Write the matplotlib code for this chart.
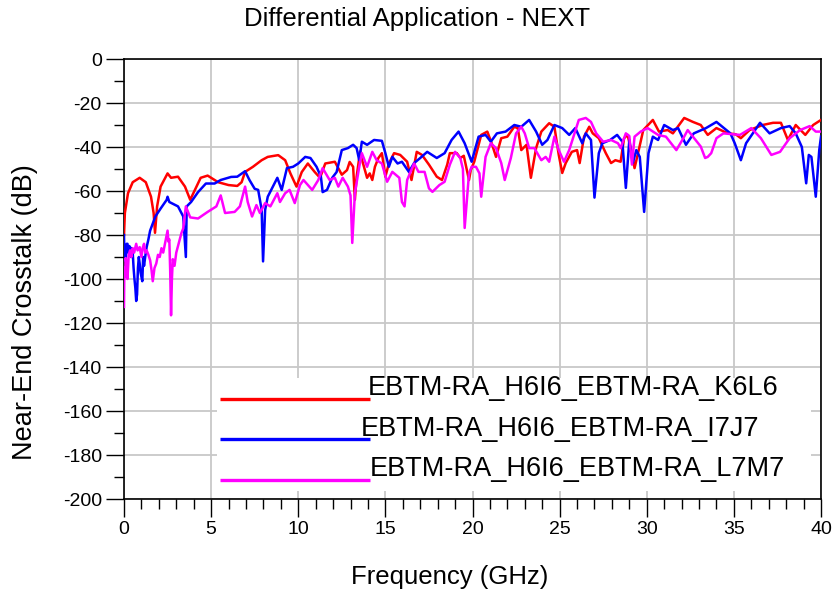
import matplotlib
matplotlib.use("Agg")
import matplotlib.pyplot as plt
from matplotlib.patches import Rectangle
from matplotlib.ticker import MultipleLocator

plt.rcParams['font.family'] = ['Liberation Sans', 'DejaVu Sans']
plt.rcParams['axes.unicode_minus'] = False

# ---- data: frequency (GHz) and near-end crosstalk (dB) ----
k6l6_freq = [0, 0.05, 0.23, 0.5, 0.9, 1.25, 1.55, 1.7, 1.78, 1.9, 2.1, 2.5, 2.7, 3.1, 3.5, 3.8, 4.1,
             4.4, 4.8, 5.4, 6.0, 6.5, 6.75, 6.95, 7.4, 7.9, 8.25, 8.85, 9.25, 9.55, 9.9, 10.2, 10.55,
             10.95, 11.25, 11.55, 12.1, 12.5, 12.8, 12.95, 13.15, 13.25, 13.35, 13.55, 13.7, 13.95,
             14.1, 14.25, 14.4, 14.6, 14.8, 15.0, 15.2, 15.5, 15.85, 16.25, 16.5, 16.8, 17.1, 17.5,
             17.95, 18.25, 18.55, 18.7, 19.1, 19.3, 19.5, 19.8, 19.9, 20.1, 20.5, 20.85, 21.1, 21.35,
             21.65, 22.0, 22.4, 22.6, 22.8, 23.1, 23.35, 23.65, 23.95, 24.4, 24.7, 24.95, 25.15,
             25.35, 25.7, 26.0, 26.15, 26.4, 26.7, 26.9, 27.25, 27.65, 27.95, 28.2, 28.5, 28.7, 28.9,
             29.1, 29.3, 29.5, 29.8, 30.35, 30.7, 31.2, 31.5, 32.15, 32.65, 33.1, 33.5, 34.0, 34.65,
             35.1, 35.4, 35.9, 36.65, 37.25, 37.7, 38.1, 38.55, 39.1, 39.55, 40]
k6l6_db = [-80, -70, -61, -56, -54, -56, -62.6, -70, -79, -67, -58, -52, -54, -53.5, -58, -64, -59,
           -54, -53, -56, -57.3, -57.7, -56, -51.3, -49, -46, -44.5, -43.7, -46, -52, -58, -51.4, -47.5,
           -51.4, -54, -47.5, -46.7, -52.6, -50.5, -46.8, -49, -64, -53.5, -42, -47, -54,
           -52, -55, -49, -45, -42.8, -53.5, -47.5, -42.8, -43.6, -46.7, -55, -42.2, -43.6, -48,
           -53.5, -55, -48, -42.8, -42.8, -45, -44, -55, -50.5, -46.7, -34.5, -33, -38.3, -44.5,
           -36, -35.3, -30.8, -31.5, -41.4, -39, -54, -40.5, -33, -29.2, -30.8, -43.6, -51.8,
           -47.3, -42.2, -41.4, -47.3, -35.3, -30.8, -33.8, -36, -42.8, -47.3, -46, -46.7, -36, -34.5,
           -41.4, -49.6, -42.8, -32.3, -27.7, -33, -32.3, -33.8, -26.8, -28.6, -30, -34.5, -31.4, -33.8,
           -34.2, -36, -32.3, -30, -29, -29, -36.8, -30, -34.5, -30, -27.7]

i7j7_freq = [0, 0.02, 0.05, 0.1, 0.15, 0.2, 0.25, 0.3, 0.35, 0.4, 0.45, 0.5, 0.55, 0.6, 0.65,
             0.7, 0.75, 0.8, 0.85, 0.9, 0.95, 1.0, 1.05, 1.1, 1.15, 1.2, 1.25, 1.3, 1.4, 1.5,
             1.8, 2.1,
             2.45, 2.5, 2.6, 3.1, 3.4, 3.55, 3.6, 3.85, 4.25, 4.7, 5.2, 5.55, 6.15, 6.5, 6.95, 7.2,
             7.5, 7.7, 7.9, 7.98, 8.1, 8.25, 8.8, 9.05, 9.35, 9.7, 10.0, 10.4, 10.7, 11.05, 11.3,
             11.4, 11.65, 11.95, 12.2, 12.5, 12.85, 13.15, 13.35, 13.5, 13.65, 13.95, 14.35, 14.8,
             15.0, 15.2, 15.4, 15.7, 15.95, 16.35, 16.65, 17.0, 17.4, 17.95, 18.4, 18.8, 19.2, 19.55,
             19.95, 20.35, 20.75, 21.05, 21.4, 21.9, 22.4, 22.8, 23.25, 23.65, 24.0, 24.3, 24.7,
             25.15, 25.55, 25.9, 26.3, 26.5, 26.8, 27.0, 27.25, 27.45, 27.9, 28.3, 28.6, 28.8, 29.0,
             29.2, 29.4, 29.6, 29.85, 30.1, 30.35, 30.65, 31.0, 31.5, 31.8, 32.25, 32.7, 33.4, 34.0,
             34.8, 35.05, 35.4, 35.7, 36.5, 37.05, 37.7, 38.2, 38.55, 38.9, 39.15, 39.3, 39.45, 39.7,
             39.9, 40]
i7j7_db = [-80, -90, -86, -92, -84, -84, -88, -85, -85.5, -90, -86, -88, -95, -100, -104,
           -110, -107, -95, -90, -93, -97, -99, -101, -90, -94, -91, -88, -85.5, -82, -78,
           -71.6, -68,
           -64, -62.6, -65, -67, -71.6, -90, -67, -65, -60.5, -56.6, -56.6, -55, -53.6, -53.5, -51, -55,
           -59, -59.5, -68.6, -92, -68.6, -62.6, -54, -59.5, -49.6, -49, -47.5, -44.5, -45, -49, -53.5,
           -60.5, -59.5, -54, -51.4, -41.4, -40.5, -39, -40.5, -46, -37.6, -39, -36.8, -37.2,
           -42.8, -49, -44.5, -47.5, -46.7, -51.3, -47.3, -45, -42.2, -45, -42.8, -36.8, -33, -38.3,
           -46.7, -35.3, -34.5, -37.6, -33.8, -33, -30, -30.8, -27.7, -33, -39, -36.8, -30,
           -31.4, -34.5, -31.4, -38.3, -33.8, -36.8, -63, -42.8, -38.3, -36.8, -34.5, -37.6, -58.6, -36.8,
           -47.3, -41.4, -44.5, -69.5, -42.8, -35.3, -36.8, -30, -32.3, -31.4, -39, -33.8, -31.4, -28.6,
           -33.8, -38.3, -46, -38.3, -29, -33.8, -31.4, -30.5, -33.8, -40, -56.5, -43.6, -44.5, -62.6,
           -41.4, -35.3]

l7m7_freq = [0, 0.02, 0.06, 0.1, 0.15, 0.2, 0.27, 0.35, 0.42, 0.5, 0.58, 0.7, 0.78, 0.9, 1.0,
             1.07, 1.15, 1.22, 1.3, 1.4, 1.5, 1.58, 1.65, 1.75, 1.85, 1.95, 2.05, 2.15, 2.25, 2.35,
             2.42, 2.5, 2.55, 2.6, 2.65, 2.7, 2.75, 2.8, 2.9, 3.0, 3.1, 3.2, 3.3, 3.4, 3.47, 3.55,
             3.8, 4.25, 4.8, 5.3, 5.55, 5.8, 6.35, 6.65, 6.95, 7.1,
             7.35, 7.6, 7.8, 8.1, 8.4, 8.8, 8.95, 9.25, 9.5, 9.8, 10.1, 10.3, 10.8, 11.15, 11.4, 11.8,
             12.1, 12.3, 12.55, 12.85, 13.0, 13.1, 13.25, 13.5, 13.65, 13.95, 14.25, 14.5, 14.8, 15.1,
             15.4, 15.8, 15.95, 16.1, 16.25, 16.65, 16.9, 17.25, 17.5, 17.7, 18.1, 18.4, 18.7, 19.0,
             19.3, 19.45, 19.55, 19.8, 19.95, 20.2, 20.4, 20.5, 20.75, 21.05, 21.35, 21.65, 21.85,
             22.2, 22.5, 22.8, 23.0, 23.25, 23.55, 23.95, 24.2, 24.4, 24.7, 24.95, 25.25, 25.55, 26.1,
             26.5, 26.8, 27.1, 27.5, 27.95, 28.35, 28.5, 28.8, 29.0, 29.15, 29.3, 29.65, 30.05, 30.65,
             31.1, 31.7, 32.1, 32.35, 32.8, 33.1, 33.35, 33.5, 33.7, 34.0, 34.4, 35.35, 36.0, 36.55,
             37.15, 37.65, 38.2, 38.8, 39.35, 39.7, 40]
l7m7_db = [-112.7, -95, -99, -90.5, -94, -100, -89, -87, -90, -86, -88, -84, -87, -85.5, -90,
           -86, -84, -88, -87, -89, -91.5, -96, -101, -95, -93, -89, -90, -86, -88, -84,
           -81, -78, -83, -82, -96, -116.5, -100, -91, -94, -88, -85, -82, -79, -77, -72, -67,
           -72, -72.5, -69.5, -67, -62, -70, -69.5, -67, -58, -65,
           -71.6, -66.4, -70, -65.5, -67, -61, -65, -61, -59.5, -65.5, -57.3, -55, -59.5, -55, -49.6, -55,
           -54, -58, -54, -58, -62, -83.6, -61, -49, -42.8, -49, -42.2, -46, -47.5, -55.8,
           -51.3, -54, -65, -67, -55, -47.5, -51.3, -51.3, -58.8, -60.4, -57.3, -55.8, -48, -42.2,
           -45, -50, -76.8, -52, -49, -49, -52, -62.6, -44.5, -38.3, -40.5, -47.3, -55,
           -45, -33.8, -30.8, -33.8, -40.5, -40.5, -46, -44.5, -46.7, -35.3, -41.4, -46.7, -41.4, -27.7,
           -26.8, -28.6, -33.8, -37.6, -36.8, -38.3, -40.5, -33.8, -35, -48, -35.3, -33, -31.4, -34.5,
           -35.3, -41.4, -36, -32.3, -36.8, -39.8, -45, -44.5, -42.8, -36, -33.8, -34.5, -31.4, -36,
           -43.6, -42.2, -36, -32.3, -30.5, -33, -33]

series_names = ["EBTM-RA_H6I6_EBTM-RA_K6L6",
                "EBTM-RA_H6I6_EBTM-RA_I7J7",
                "EBTM-RA_H6I6_EBTM-RA_L7M7"]
series_colors = ["#ff0000", "#0000ff", "#ff00ff"]

x_ticks = [0, 5, 10, 15, 20, 25, 30, 35, 40]
y_ticks = [0, -20, -40, -60, -80, -100, -120, -140, -160, -180, -200]

# ---- figure ----
fig = plt.figure(figsize=(8.34, 5.93), dpi=100)
ax = fig.add_axes([124 / 834, 1 - 499 / 593, 697 / 834, 440 / 593])

ax.set_xlim(0, 40)
ax.set_ylim(-200, 0)
ax.set_xticks(x_ticks)
ax.set_yticks(y_ticks)
ax.xaxis.set_minor_locator(MultipleLocator(1))
ax.yaxis.set_minor_locator(MultipleLocator(10))
ax.tick_params(which='major', direction='out', length=13, width=1.0, pad=3,
               labelsize=14, colors='black')
ax.tick_params(which='minor', direction='out', length=7, width=1.0)
ax.grid(True, which='major', color='#c8c8c8', linewidth=1.3, zorder=0)
ax.set_axisbelow(True)
for sp in ax.spines.values():
    sp.set_linewidth(1.2)
    sp.set_color('black')

for fr, db, c in zip([k6l6_freq, i7j7_freq, l7m7_freq],
                     [k6l6_db, i7j7_db, l7m7_db], series_colors):
    ax.plot(fr, db, color=c, linewidth=1.8, zorder=3, solid_joinstyle='round')

# legend panel: white background, line swatches and labels
ax.add_patch(Rectangle((0.133, 0.018), 0.852, 0.258, transform=ax.transAxes,
                       facecolor='white', edgecolor='none', zorder=2))
legend_line_y = [0.227, 0.136, 0.043]
legend_text_x = [0.350, 0.339, 0.353]
legend_text_y = [0.252, 0.159, 0.068]
for name, c, ly, tx, ty in zip(series_names, series_colors, legend_line_y,
                               legend_text_x, legend_text_y):
    ax.plot([0.1377, 0.353], [ly, ly], transform=ax.transAxes, color=c,
            linewidth=2.4, solid_capstyle='butt', zorder=4, clip_on=False)
    ax.text(tx, ty, name, transform=ax.transAxes, fontsize=19.5,
            ha='left', va='center', zorder=5)

fig.text(0.5, 1 - 19 / 593, "Differential Application - NEXT", ha='center', va='center',
         fontsize=18.5)
fig.text(450 / 834, 1 - 577 / 593, "Frequency (GHz)", ha='center', va='center', fontsize=18.5)
fig.text(25 / 834, 1 - 312 / 593, "Near-End Crosstalk (dB)", ha='center', va='center',
         rotation=90, fontsize=19.5)

fig.savefig("out.png", dpi=100)
